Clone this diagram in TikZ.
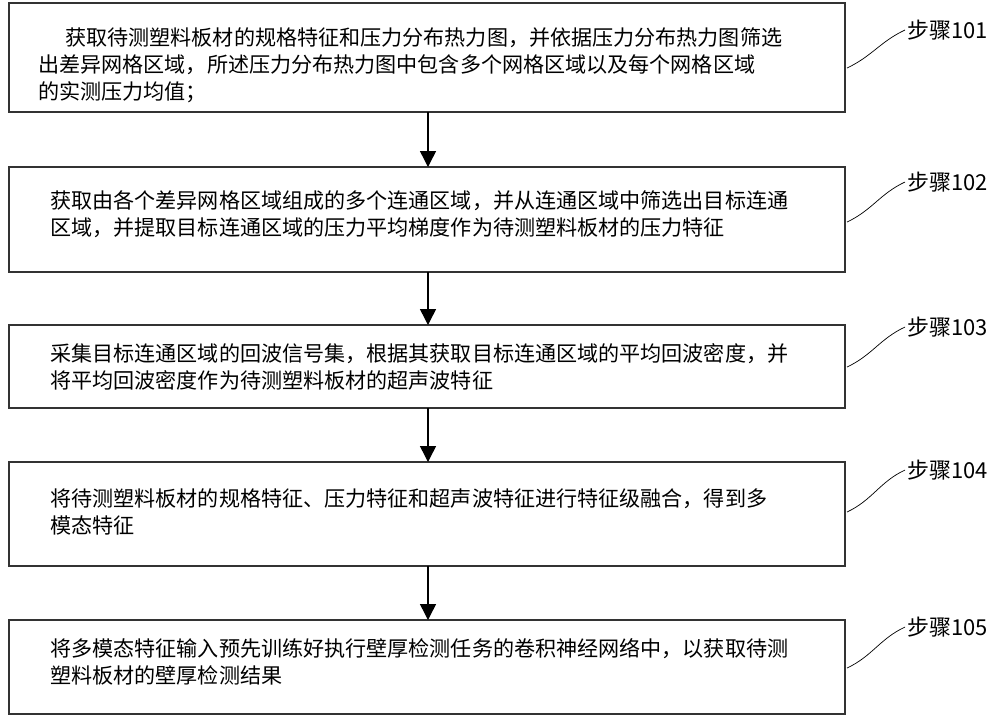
\documentclass[tikz,border=0pt]{standalone}
\usepackage{fontspec}
\setmainfont{Noto Sans CJK SC}
\usetikzlibrary{arrows.meta}

\begin{document}
\begin{tikzpicture}[
          x=0.02cm, y=-0.02cm,
          stepbox/.style={draw=black!80,thick},
          steptext/.style={anchor=north west,align=left,font=\fontsize{12pt}{15.4pt}\selectfont,inner sep=0pt},
          flow/.style={thick,-{Triangle[length=9pt,width=9pt]}},
          tag/.style={anchor=west,font=\fontsize{12.5pt}{14pt}\selectfont,inner sep=1pt},
          lead/.style={thin},
        ]
        \useasboundingbox (0,0) rectangle (1000,725);

        \draw[stepbox] (9, 3) rectangle (845, 112) coordinate (b1);
        \draw[stepbox] (9, 167) rectangle (845, 272) coordinate (b2);
        \draw[stepbox] (9, 325) rectangle (845, 408) coordinate (b3);
        \draw[stepbox] (9, 462) rectangle (845, 566) coordinate (b4);
        \draw[stepbox] (9, 620) rectangle (845, 714) coordinate (b5);

        \node[steptext] (t1) at (38, 27) {\hspace*{0.54cm}获取待测塑料板材的规格特征和压力分布热力图，并依据压力分布热力图筛选\\出差异网格区域，所述压力分布热力图中包含多个网格区域以及每个网格区域\\的实测压力均值；};
        \node[steptext] (t2) at (50, 190) {获取由各个差异网格区域组成的多个连通区域，并从连通区域中筛选出目标连通\\区域，并提取目标连通区域的压力平均梯度作为待测塑料板材的压力特征};
        \node[steptext] (t3) at (50, 343) {采集目标连通区域的回波信号集，根据其获取目标连通区域的平均回波密度，并\\将平均回波密度作为待测塑料板材的超声波特征};
        \node[steptext] (t4) at (50, 488) {将待测塑料板材的规格特征、压力特征和超声波特征进行特征级融合，得到多\\模态特征};
        \node[steptext] (t5) at (50, 638) {将多模态特征输入预先训练好执行壁厚检测任务的卷积神经网络中，以获取待测\\塑料板材的壁厚检测结果};

        \coordinate (a1) at (428, 112); \coordinate (a2) at (428, 167);
        \coordinate (a3) at (428, 272); \coordinate (a4) at (428, 325);
        \coordinate (a5) at (428, 408); \coordinate (a6) at (428, 462);
        \coordinate (a7) at (428, 566); \coordinate (a8) at (428, 620);
        \draw[flow] (a1) -- (a2);
        \draw[flow] (a3) -- (a4);
        \draw[flow] (a5) -- (a6);
        \draw[flow] (a7) -- (a8);

        \node[tag] (s1) at (905, 30) {步骤101};
        \node[tag] (s2) at (905, 182) {步骤102};
        \node[tag] (s3) at (905, 327) {步骤103};
        \node[tag] (s4) at (905, 470) {步骤104};
        \node[tag] (s5) at (905, 627) {步骤105};

        \coordinate (e1) at (847, 68);  \coordinate (e2) at (847, 222);
        \coordinate (e3) at (847, 367); \coordinate (e4) at (847, 512);
        \coordinate (e5) at (847, 668);
        \draw[lead] (e1) to[out=25,in=205] (s1.west);
        \draw[lead] (e2) to[out=25,in=205] (s2.west);
        \draw[lead] (e3) to[out=25,in=205] (s3.west);
        \draw[lead] (e4) to[out=25,in=205] (s4.west);
        \draw[lead] (e5) to[out=25,in=205] (s5.west);
\end{tikzpicture}
\end{document}
